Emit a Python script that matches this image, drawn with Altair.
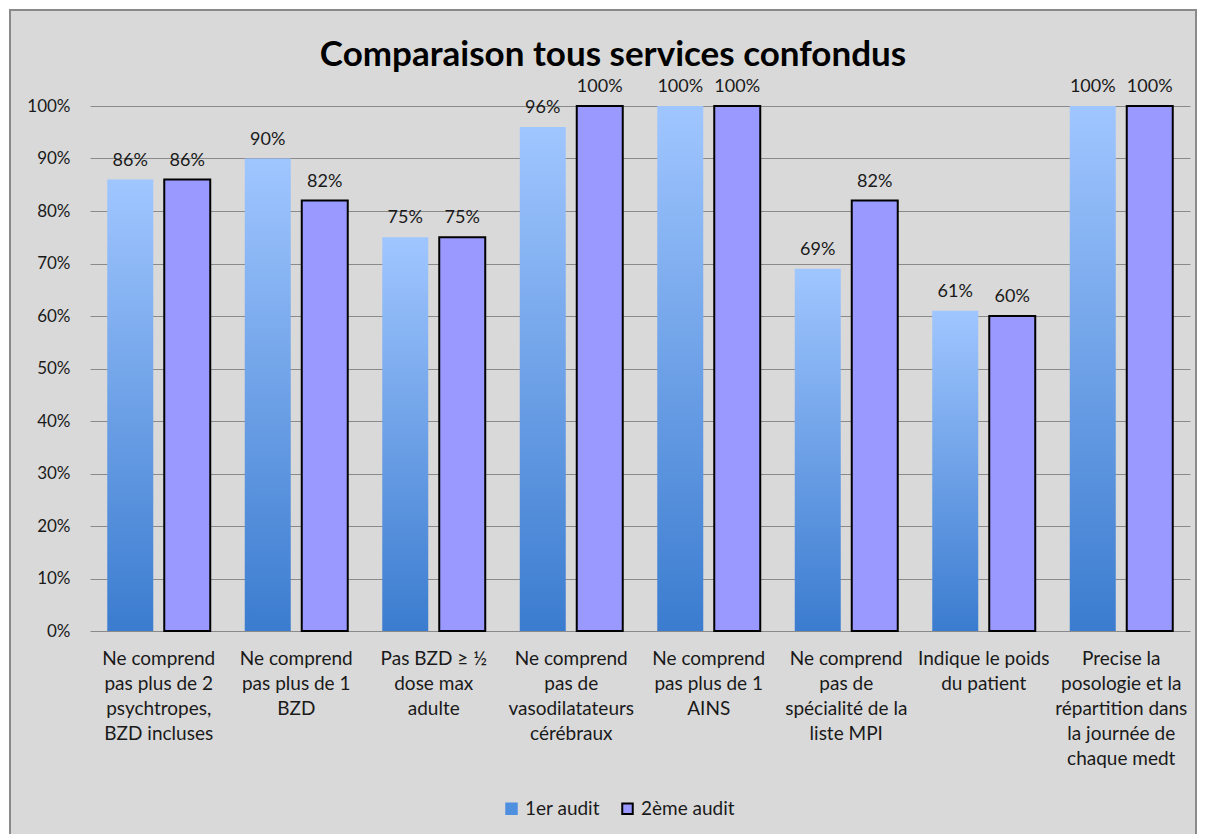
import altair as alt
import pandas as pd

categories = [
    "Ne comprend\npas plus de 2\npsychtropes,\nBZD incluses",
    "Ne comprend\npas plus de 1\nBZD",
    "Pas BZD ≥ ½\ndose max\nadulte",
    "Ne comprend\npas de\nvasodilatateurs\ncérébraux",
    "Ne comprend\npas plus de 1\nAINS",
    "Ne comprend\npas de\nspécialité de la\nliste MPI",
    "Indique le poids\ndu patient",
    "Precise la\nposologie et la\nrépartition dans\nla journée de\nchaque medt",
]
series = ["1er audit", "2ème audit"]
audit1 = [0.86, 0.90, 0.75, 0.96, 1.00, 0.69, 0.61, 1.00]
audit2 = [0.86, 0.82, 0.75, 1.00, 1.00, 0.82, 0.60, 1.00]
y_ticks = [0, 0.1, 0.2, 0.3, 0.4, 0.5, 0.6, 0.7, 0.8, 0.9, 1.0]

rows = []
for c, a, b in zip(categories, audit1, audit2):
    rows.append({"cat": c, "audit": series[0], "v": a})
    rows.append({"cat": c, "audit": series[1], "v": b})
df = pd.DataFrame(rows)

FONT = "Lato"
TXT = "#1a1a1a"

x_enc = alt.X("cat:N", sort=categories,
              scale=alt.Scale(domain=categories, paddingInner=0.171, paddingOuter=0.0855),
              axis=alt.Axis(title=None, labelAngle=0, ticks=False, domain=False,
                            labelExpr="split(datum.label, '\\n')", labelFont=FONT,
                            labelFontSize=19, labelColor=TXT, labelLineHeight=25,
                            labelPadding=18, labelBaseline="top", labelLimit=300,
                            labelOverlap=False))
xo_enc = alt.XOffset("audit:N", scale=alt.Scale(domain=series, paddingInner=0.193, paddingOuter=0.0965))
y_enc = alt.Y("v:Q", scale=alt.Scale(domain=[0, 1]),
              axis=alt.Axis(title=None, values=y_ticks, format=".0%", grid=True,
                            gridColor="#8a8a8a", gridWidth=1.2, domain=False, ticks=False,
                            labelFont=FONT, labelFontSize=17, labelColor=TXT, labelPadding=20))

base = alt.Chart(df)

grad = alt.Gradient(gradient="linear",
                    stops=[alt.GradientStop(color="#a0c6ff", offset=0),
                           alt.GradientStop(color="#3b7ccf", offset=1)],
                    x1=0, x2=0, y1=0, y2=1)

bars1 = base.transform_filter(alt.datum.audit == series[0]).mark_bar(fill=grad).encode(
    x=x_enc, xOffset=xo_enc, y=y_enc)

legend = alt.Legend(title=None, orient="none", legendX=412, legendY=693, direction="horizontal",
                    symbolType="square", symbolSize=110, symbolStrokeWidth=2,
                    labelFont=FONT, labelFontSize=19, labelColor=TXT, columnPadding=18,
                    labelOffset=4, padding=0)

bars2 = base.transform_filter(alt.datum.audit == series[1]).mark_bar(strokeWidth=2).encode(
    x=x_enc, xOffset=xo_enc, y=y_enc,
    fill=alt.Fill("audit:N", scale=alt.Scale(domain=series, range=["#4f8fe0", "#9999ff"]), legend=legend),
    stroke=alt.Stroke("audit:N", scale=alt.Scale(domain=series, range=["#4f8fe0", "#000000"]), legend=legend),
)

labels = base.mark_text(font=FONT, fontSize=18, color=TXT, baseline="alphabetic", dy=-14).encode(
    x=x_enc, xOffset=xo_enc, y=y_enc, text=alt.Text("v:Q", format=".0%"))

frame_data = pd.DataFrame({"k": [0]})
white_frame = alt.Chart(frame_data).mark_rect(fill=None, stroke="white", strokeWidth=10).encode(
    x=alt.value(-85), x2=alt.value(1111), y=alt.value(-101), y2=alt.value(760))
gray_frame = alt.Chart(frame_data).mark_rect(fill=None, stroke="#8a8a8a", strokeWidth=2).encode(
    x=alt.value(-80), x2=alt.value(1106), y=alt.value(-96), y2=alt.value(760))

chart = alt.layer(bars1, bars2, labels, white_frame, gray_frame).properties(
    width=1100, height=525,
    title=alt.TitleParams("Comparaison tous services confondus", font=FONT, fontSize=35,
                          fontWeight="bold", color="#000000", anchor="middle", dx=-27,
                          offset=0, dy=101, baseline="alphabetic"),
    background="#d9d9d9",
    padding={"left": 90, "top": 106, "right": 15, "bottom": 203},
    autosize=alt.AutoSizeParams(type="none"),
).configure_view(stroke=None)

chart.save("out.html", embed_options={"renderer": "svg", "actions": False})
